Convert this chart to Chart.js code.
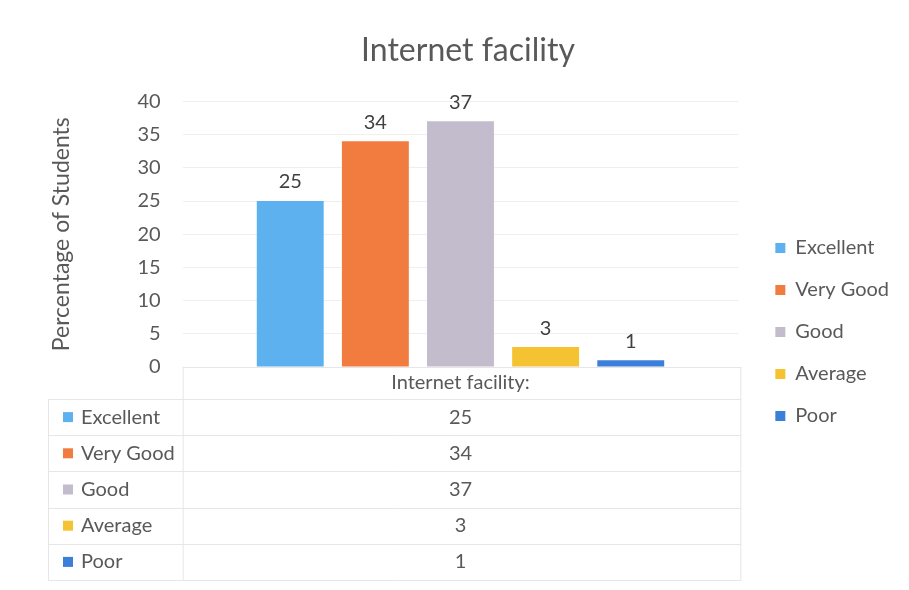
<!DOCTYPE html>
<html>
<head>
<meta charset="utf-8">
<script src="https://cdn.jsdelivr.net/npm/chart.js@4/dist/chart.umd.min.js"></script>
<style>
  html, body { margin: 0; padding: 0; background: #fff; }
  #wrap { width: 909px; height: 590px; }
</style>
</head>
<body>
<div id="wrap"><canvas id="facilityChart"></canvas></div>
<script>
// Datos del gráfico
var categories = ['Internet facility:'];
var seriesNames = ['Excellent', 'Very Good', 'Good', 'Average', 'Poor'];
var seriesValues = [25, 34, 37, 3, 1];
var seriesColors = ['#5db1ee', '#f27b3f', '#c3bccd', '#f5c232', '#3c7fdb'];
var yTicks = [0, 5, 10, 15, 20, 25, 30, 35, 40];

var fontFamily = 'Lato, "Open Sans", sans-serif';
var textColor = '#595959';

// Un dataset por cada calificación
var datasets = seriesNames.map(function (name, i) {
    return {
        label: name,
        data: [seriesValues[i]],
        backgroundColor: seriesColors[i],
        borderWidth: 0,
        barPercentage: 0.786,
        categoryPercentage: 0.766
    };
});

// Etiquetas de valor sobre las barras
var valueLabels = {
    id: 'valueLabels',
    afterDatasetsDraw: function (chart) {
        var c = chart.ctx;
        c.save();
        c.font = '20px ' + fontFamily;
        c.fillStyle = '#404040';
        c.textAlign = 'center';
        c.textBaseline = 'bottom';
        chart.data.datasets.forEach(function (ds, i) {
            chart.getDatasetMeta(i).data.forEach(function (bar, j) {
                c.fillText(ds.data[j], bar.x, bar.y - 9);
            });
        });
        c.restore();
    }
};

// Tabla de datos debajo del gráfico (estilo Excel)
var dataTable = {
    id: 'dataTable',
    afterDraw: function (chart) {
        var c = chart.ctx;
        var area = chart.chartArea;
        var top = area.bottom;
        var rowH = 36.2;
        var headH = 32;
        var left = 48;
        var right = area.right + 3;
        var nRows = seriesNames.length;
        var bottom = top + headH + rowH * nRows;
        c.save();
        c.strokeStyle = '#e6e6e6';
        c.lineWidth = 1;
        c.beginPath();
        c.moveTo(area.left, top + 0.5); c.lineTo(right, top + 0.5);
        c.moveTo(area.left + 0.5, top); c.lineTo(area.left + 0.5, bottom);
        c.moveTo(right - 0.5, top); c.lineTo(right - 0.5, bottom);
        for (var r = 0; r <= nRows; r++) {
            var y = Math.round(top + headH + rowH * r) + 0.5;
            c.moveTo(left, y); c.lineTo(right, y);
        }
        c.moveTo(left + 0.5, top + headH); c.lineTo(left + 0.5, bottom);
        c.stroke();

        c.font = '20px ' + fontFamily;
        c.fillStyle = textColor;
        c.textBaseline = 'middle';
        c.textAlign = 'center';
        var cx = (area.left + area.right) / 2;
        c.fillText(categories[0], cx, top + headH / 2);
        for (var i = 0; i < nRows; i++) {
            var yc = top + headH + rowH * i + rowH / 2;
            c.fillStyle = seriesColors[i];
            c.fillRect(left + 15, yc - 5, 10, 10);
            c.fillStyle = textColor;
            c.textAlign = 'left';
            c.fillText(seriesNames[i], left + 33, yc);
            c.textAlign = 'center';
            c.fillText(seriesValues[i], cx, yc);
        }
        c.restore();
    }
};

var ctx = document.getElementById('facilityChart').getContext('2d');
var facilityChart = new Chart(ctx, {
    type: 'bar',
    data: {
        labels: categories,
        datasets: datasets
    },
    options: {
        responsive: true,
        maintainAspectRatio: false,
        animation: false,
        layout: {
            padding: { top: 31, left: 40, right: 13, bottom: 8 }
        },
        plugins: {
            title: {
                display: true,
                text: 'Internet facility',
                color: textColor,
                font: { family: fontFamily, size: 32, weight: 'normal' },
                padding: { top: 0, bottom: 32 }
            },
            legend: {
                position: 'right',
                align: 'center',
                title: {
                    display: true,
                    text: ' ',
                    font: { size: 10 },
                    padding: { top: 39, bottom: 0 }
                },
                labels: {
                    color: textColor,
                    font: { family: fontFamily, size: 20 },
                    boxWidth: 10,
                    boxHeight: 10,
                    padding: 22
                }
            },
            tooltip: { enabled: false }
        },
        scales: {
            x: {
                grid: { display: false },
                border: { display: false },
                ticks: { display: false },
                afterFit: function (scale) {
                    scale.height = 215;
                }
            },
            y: {
                min: 0,
                max: 40,
                afterBuildTicks: function (scale) {
                    scale.ticks = yTicks.map(function (v) { return { value: v }; });
                },
                grid: { color: '#efefef', drawTicks: false },
                border: { display: false },
                ticks: {
                    color: textColor,
                    font: { family: fontFamily, size: 20 },
                    padding: 22
                },
                title: {
                    display: true,
                    text: 'Percentage of Students',
                    color: textColor,
                    font: { family: fontFamily, size: 23 },
                    padding: { top: 8, bottom: 56 }
                }
            },
            gap: {
                type: 'linear',
                position: 'right',
                grid: { display: false },
                border: { display: false },
                ticks: { display: false },
                afterFit: function (scale) {
                    scale.width = 15;
                }
            }
        }
    },
    plugins: [valueLabels, dataTable]
});
</script>
</body>
</html>
